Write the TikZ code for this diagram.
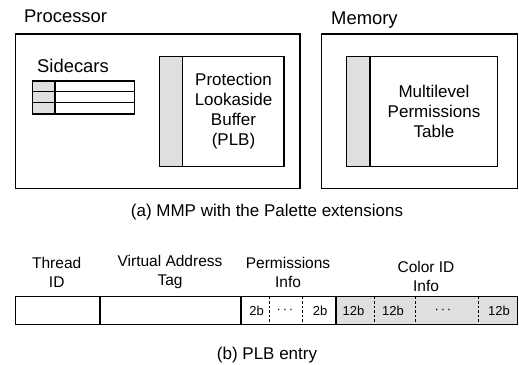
\documentclass[tikz,border=0pt]{standalone}
\usepackage{fontspec}
\setmainfont{Liberation Sans}

\tikzset{
    box/.style={draw, line width=1.2pt},
    shadebox/.style={draw, line width=1.2pt, fill=gray!25},
    toptext/.style={font=\fontsize{18.4}{21}\selectfont, inner sep=0pt},
    bigtext/.style={font=\fontsize{17}{20}\selectfont, align=center, inner sep=0pt},
    fieldtext/.style={font=\fontsize{15.5}{19}\selectfont, align=center, inner sep=0pt},
    bittext/.style={font=\fontsize{13}{15}\selectfont, inner sep=0pt},
    bitsep/.style={line width=0.9pt, dash pattern=on 2.5pt off 2pt},
}
\newcommand{\middots}{\textperiodcentered\hspace{1.8pt}\textperiodcentered\hspace{1.8pt}\textperiodcentered}

\begin{document}
\begin{tikzpicture}[x=1pt, y=-1pt]
    \useasboundingbox (0,0) rectangle (519,364);
    % (a) processor and memory
    \node[toptext, anchor=base west] (proclabel) at (24,23) {Processor};
    \draw[box] (15.5,34) rectangle (300,188.5);
    \node[toptext, anchor=base west] (memlabel) at (331,24) {Memory};
    \draw[box] (321.5,34) rectangle (517.5,188.5);
    \node[toptext, anchor=base west] (sidelabel) at (37,72.5) {Sidecars};
    \draw[shadebox] (32.5,81) rectangle (55,114);
    \draw[box] (32.5,81) rectangle (134.5,114);
    \draw[box] (32.5,91.7) -- (134.5,91.7);
    \draw[box] (32.5,102.7) -- (134.5,102.7);
    \draw[shadebox] (159.5,56.5) rectangle (182.7,166.5);
    \draw[box] (159.5,56.5) rectangle (284,166.5);
    \node[bigtext] (plblabel) at (233.5,111) {Protection\\Lookaside\\Buffer\\(PLB)};
    \draw[shadebox] (346.7,56.7) rectangle (370,166.7);
    \draw[box] (346.7,56.7) rectangle (497.7,166.7);
    \node[bigtext] (mptlabel) at (434,111) {Multilevel\\Permissions\\Table};
    \node[bigtext] (capa) at (267,212) {(a) MMP with the Palette extensions};
    % (b) PLB entry
    \node[fieldtext] (tidlabel) at (56.7,272) {Thread\\ID};
    \node[fieldtext] (vatlabel) at (170,272) {Virtual Address\\Tag};
    \node[fieldtext] (permlabel) at (288,272) {Permissions\\Info};
    \node[fieldtext] (colorlabel) at (426,276) {Color ID\\Info};
    \fill[gray!25] (336,296.5) rectangle (517.5,324.5);
    \draw[box] (15.5,296.5) rectangle (517.5,324.5);
    \draw[box] (100,296.5) -- (100,324.5);
    \draw[box] (241,296.5) -- (241,324.5);
    \draw[box] (336,296.5) -- (336,324.5);
    \foreach \x in {269,302.7,374.7,415.7,478.3}
        \draw[bitsep] (\x,296.5) -- (\x,324.5);
    \node[bittext] (permfirst) at (256.7,311) {2b};
    \node[bittext] (permdots) at (285,311) {\middots};
    \node[bittext] (permlast) at (320,311) {2b};
    \node[bittext] (colorfirst) at (353.5,311) {12b};
    \node[bittext] (colorsecond) at (393,311) {12b};
    \node[bittext] (colordots) at (443,311) {\middots};
    \node[bittext] (colorlast) at (499,311) {12b};
    \node[bigtext] (capb) at (267,355) {(b) PLB entry};
\end{tikzpicture}
\end{document}
